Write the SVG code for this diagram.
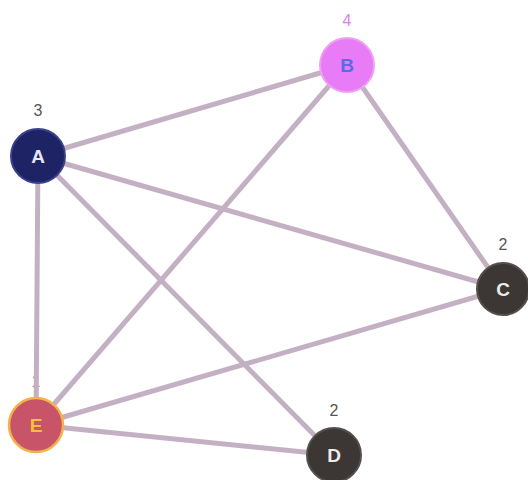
<svg xmlns="http://www.w3.org/2000/svg" width="528" height="480" viewBox="0 0 528 480">
<style>
.edge{stroke:#c3b1c3;stroke-width:5;stroke-linecap:round;fill:none}
.lbl{font-family:"Liberation Sans",Arial,sans-serif;font-size:19px;text-anchor:middle;font-weight:bold}
.deg{font-family:"Liberation Sans",Arial,sans-serif;font-size:16px;text-anchor:middle;fill:#555}
</style>
<rect width="528" height="480" fill="#ffffff"/>
<text class="deg" x="36" y="387" fill="#d86a86" style="fill:#d86a86">1</text>
<g id="connectors">
<line class="edge" x1="38" y1="156" x2="347" y2="65"/>
<line class="edge" x1="38" y1="156" x2="503" y2="289"/>
<line class="edge" x1="38" y1="156" x2="334" y2="455"/>
<line class="edge" x1="38" y1="156" x2="36" y2="425"/>
<line class="edge" x1="347" y1="65" x2="503" y2="289"/>
<line class="edge" x1="347" y1="65" x2="36" y2="425"/>
<line class="edge" x1="503" y1="289" x2="36" y2="425"/>
<line class="edge" x1="334" y1="455" x2="36" y2="425"/>
</g>
<g id="node-B">
<circle cx="347" cy="65" r="27" fill="#e87cf7" stroke="#f0a0f0" stroke-width="2"/>
<text class="lbl" x="347" y="72" fill="#5a6be6">B</text>
<text class="deg" x="347" y="26" style="fill:#e07ef0">4</text>
</g>
<g id="node-A">
<circle cx="38" cy="156" r="27" fill="#1e2366" stroke="#3a4290" stroke-width="2"/>
<text class="lbl" x="38" y="163" fill="#e8e8f4">A</text>
<text class="deg" x="38" y="116">3</text>
</g>
<g id="node-C">
<circle cx="503" cy="289" r="26" fill="#3c3734" stroke="#55504c" stroke-width="2"/>
<text class="lbl" x="503" y="296" fill="#ececec">C</text>
<text class="deg" x="503" y="250">2</text>
</g>
<g id="node-D">
<circle cx="334" cy="455" r="27" fill="#3c3734" stroke="#55504c" stroke-width="2"/>
<text class="lbl" x="334" y="462" fill="#ececec">D</text>
<text class="deg" x="334" y="416">2</text>
</g>
<g id="node-E">
<circle cx="36" cy="425" r="27" fill="#c8546a" stroke="#f3b24a" stroke-width="2.5"/>
<text class="lbl" x="36" y="432" fill="#f5c040">E</text>
</g>
</svg>
